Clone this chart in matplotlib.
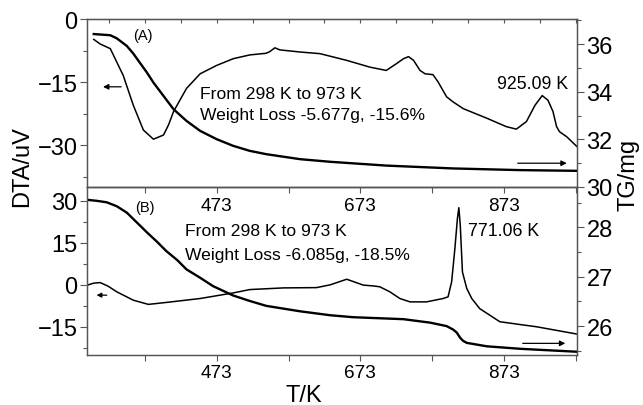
import numpy as np
import matplotlib
matplotlib.use('Agg')
import matplotlib.pyplot as plt
from matplotlib.ticker import MultipleLocator

plt.rcParams['font.family'] = ['Liberation Sans', 'DejaVu Sans']

# (A) DTA, left axis
T_dta_a = [302, 311, 325, 343, 357, 371, 385, 399, 406, 413, 431, 450, 473, 496, 519, 542, 547, 554,
           561, 589, 617, 654, 686, 709, 723, 733, 740, 747, 756, 763, 774, 781, 793, 802, 816, 849,
           876, 890, 904, 916, 926, 934, 941, 946, 950, 960, 974]
dta_a = [-4.8, -5.9, -7.0, -13.4, -20.5, -26.4, -28.6, -27.6, -25.2, -22.0, -16.5, -13.0, -11.0, -9.4,
         -8.5, -8.1, -7.7, -6.8, -7.3, -7.8, -8.2, -9.8, -11.4, -12.2, -10.6, -9.4, -8.9, -9.8, -12.2,
         -13.0, -13.2, -14.9, -18.5, -19.7, -21.3, -23.6, -25.6, -26.2, -24.4, -20.5, -18.2, -19.3,
         -22.0, -25.6, -26.8, -28.0, -30.3]

# (A) TG, right axis
T_tg_a = [302, 325, 334, 348, 357, 366, 376, 385, 399, 413, 431, 450, 473, 496, 519, 542, 589, 631,
          709, 802, 895, 974]
tg_a = [36.43, 36.38, 36.25, 35.93, 35.61, 35.23, 34.81, 34.39, 33.83, 33.27, 32.78, 32.36, 32.01,
        31.73, 31.52, 31.38, 31.17, 31.06, 30.90, 30.78, 30.71, 30.68]

# (B) DTA, left axis
T_dta_b = [293, 302, 311, 322, 334, 357, 378, 403, 450, 473, 496, 519, 566, 612, 631, 654, 677, 691,
           700, 714, 728, 742, 765, 788, 795, 800, 804.5, 808, 810, 812, 815, 821, 828, 839, 867, 895,
           918, 974]
dta_b = [-0.1, 0.6, 0.8, -0.5, -2.5, -5.5, -7.0, -6.3, -4.9, -3.9, -2.9, -1.7, -1.1, -1.0, 0.0, 2.0,
         -0.1, -0.4, -0.7, -2.5, -4.9, -6.1, -6.1, -4.9, -4.3, 1.1, 13.0, 23.7, 27.6, 21.3, 4.6, -1.3,
         -4.9, -8.5, -13.2, -14.2, -15.0, -17.6]

# (B) TG, right axis
T_tg_b = [293, 306, 320, 334, 348, 362, 376, 390, 403, 418, 431, 450, 468, 496, 519, 542, 589, 631,
          663, 733, 770, 793, 802, 807, 812, 816, 821, 849, 895, 974]
tg_b = [28.56, 28.54, 28.51, 28.43, 28.30, 28.10, 27.90, 27.71, 27.52, 27.34, 27.15, 26.98, 26.81,
        26.62, 26.51, 26.41, 26.30, 26.22, 26.18, 26.14, 26.07, 26.00, 25.93, 25.87, 25.76, 25.70,
        25.66, 25.59, 25.54, 25.48]

x_ticks = [473, 673, 873]

W, H = 643, 406
fig = plt.figure(figsize=(W / 100, H / 100), dpi=100)

left, right = 87.3 / W, 576.7 / W
mid = 1 - 188 / H
ax_a = fig.add_axes([left, mid, right - left, (1 - 20.3 / H) - mid])
ax_b = fig.add_axes([left, 1 - 355.7 / H, right - left, mid - (1 - 355.7 / H)])
ax_b.set_facecolor('none')  # so the labels of (A) show through
ax_a2 = ax_a.twinx()
ax_b2 = ax_b.twinx()

frame = '#555555'


def style(ax):
    for s in ax.spines.values():
        s.set_color(frame)
        s.set_linewidth(0.9)
    ax.tick_params(axis='y', which='major', direction='out', length=5, width=0.8,
                   labelsize=17, pad=2, color=frame)
    ax.tick_params(axis='y', which='minor', direction='out', length=3, width=0.8, color=frame)
    ax.tick_params(axis='x', which='major', direction='out', length=4, width=0.8,
                   labelsize=13.7, pad=3, color=frame)
    ax.tick_params(axis='x', which='minor', direction='out', length=4, width=0.8, color=frame)


for ax in (ax_a, ax_b, ax_a2, ax_b2):
    style(ax)
    ax.set_xlim(293, 974)
    ax.set_xticks(x_ticks)
    ax.set_xticks([373, 573, 773, 973], minor=True)

# (A)
ax_a.plot(T_dta_a, dta_a, color='k', lw=1.1)
ax_a2.plot(T_tg_a, tg_a, color='k', lw=1.7)
ax_a.set_ylim(-40, 0)
ax_a.set_yticks([-30, -15, 0])
ax_a.yaxis.set_minor_locator(MultipleLocator(7.5))
ax_a2.set_ylim(30, 37.05)
ax_a2.set_yticks([30, 32, 34, 36])
ax_a2.yaxis.set_minor_locator(MultipleLocator(1))

top = ax_a.secondary_xaxis('top')
top.set_xticks(np.arange(323, 974, 50))
top.tick_params(direction='in', length=3, width=0.8, labeltop=False, color=frame)
top.spines['top'].set_color(frame)

ax_a.text(371, -3.7, '(A)', fontsize=10.5, ha='center', va='center')
ax_a.text(450, -17.7, 'From 298 K to 973 K', fontsize=12.6, ha='left', va='center')
ax_a.text(450, -22.8, 'Weight Loss -5.677g, -15.6%', fontsize=12.6, ha='left', va='center')
ax_a.text(912, -15.3, '925.09 K', fontsize=12.8, ha='center', va='center')
ax_a.annotate('', xy=(311, -16.1), xytext=(344, -16.1),
              arrowprops=dict(arrowstyle='-|>', lw=0.9, color='k', mutation_scale=8))
ax_a2.annotate('', xy=(964, 31.0), xytext=(888, 31.0),
               arrowprops=dict(arrowstyle='-|>', lw=0.9, color='k', mutation_scale=8))

# (B)
ax_b.plot(T_dta_b, dta_b, color='k', lw=1.1)
ax_b2.plot(T_tg_b, tg_b, color='k', lw=1.7)
ax_b.set_ylim(-25, 35)
ax_b.set_yticks([-15, 0, 15, 30])
ax_b.yaxis.set_minor_locator(MultipleLocator(7.5))
ax_b2.set_ylim(25.42, 28.82)
ax_b2.set_yticks([26, 27, 28])
ax_b2.yaxis.set_minor_locator(MultipleLocator(0.5))

ax_b.text(373, 27.9, '(B)', fontsize=10.5, ha='center', va='center')
ax_b.text(429, 19.5, 'From 298 K to 973 K', fontsize=12.6, ha='left', va='center')
ax_b.text(429, 10.8, 'Weight Loss -6.085g, -18.5%', fontsize=12.6, ha='left', va='center')
ax_b.text(823, 19.5, '771.06 K', fontsize=12.8, ha='left', va='center')
ax_b.annotate('', xy=(302, -3.7), xytext=(324, -3.7),
              arrowprops=dict(arrowstyle='-|>', lw=0.9, color='k', mutation_scale=7))
ax_b2.annotate('', xy=(962, 25.65), xytext=(895, 25.65),
               arrowprops=dict(arrowstyle='-|>', lw=0.9, color='k', mutation_scale=8))

# axis titles
fig.text(22 / W, 1 - 166.5 / H, 'DTA/uV', rotation=90, fontsize=17, ha='center', va='center')
fig.text(629 / W, 1 - 175 / H, 'TG/mg', rotation=90, fontsize=17, ha='center', va='center')
fig.text(304 / W, 1 - 396 / H, 'T/K', fontsize=17, ha='center', va='center')

fig.savefig('out.png', dpi=100)
